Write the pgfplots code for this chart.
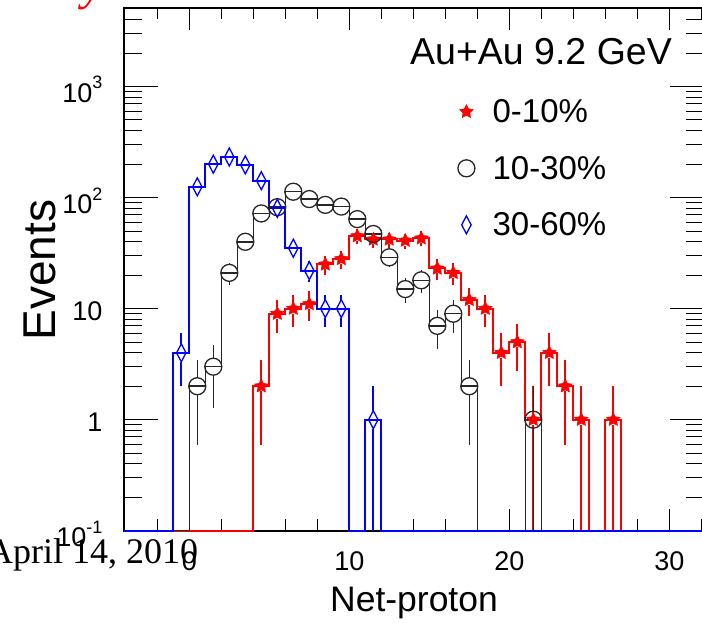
\documentclass[border=0pt]{standalone}
\usepackage{fontspec}
\setmainfont{Liberation Sans}
\newfontfamily\serifnm{Liberation Serif}
\usepackage{pgfplots}
\pgfplotsset{compat=1.18}
\usepackage{pgfplotstable}
\usetikzlibrary{calc}

\pgfdeclareplotmark{fstar}{%
  \pgfpathmoveto{\pgfpointpolar{90}{\pgfplotmarksize}}%
  \pgfpathlineto{\pgfpointpolar{126}{0.5\pgfplotmarksize}}%
  \pgfpathlineto{\pgfpointpolar{162}{\pgfplotmarksize}}%
  \pgfpathlineto{\pgfpointpolar{198}{0.5\pgfplotmarksize}}%
  \pgfpathlineto{\pgfpointpolar{234}{\pgfplotmarksize}}%
  \pgfpathlineto{\pgfpointpolar{270}{0.5\pgfplotmarksize}}%
  \pgfpathlineto{\pgfpointpolar{306}{\pgfplotmarksize}}%
  \pgfpathlineto{\pgfpointpolar{342}{0.5\pgfplotmarksize}}%
  \pgfpathlineto{\pgfpointpolar{18}{\pgfplotmarksize}}%
  \pgfpathlineto{\pgfpointpolar{54}{0.5\pgfplotmarksize}}%
  \pgfpathclose
  \pgfusepathqfillstroke
}

\newcommand\sups[1]{\raisebox{0.5em}{\fontsize{18}{18}\selectfont #1}}

\pgfplotsset{
  gapA/.style={error bars/draw error bar/.code 2 args={%
     \path ##1 coordinate (ebA) ##2 coordinate (ebB);
     \path let \p1=(ebA), \p2=(ebB) in \pgfextra{\pgfmathsetmacro\ebLen{abs(\y2-\y1)}\global\let\ebLenG\ebLen};
     \ifdim\ebLenG pt>8.5pt\relax \draw[/pgfplots/every error bar] ($(ebA)!8.5pt!(ebB)$) -- (ebB);\fi}},
  gapB/.style={error bars/draw error bar/.code 2 args={%
     \path ##1 coordinate (ebA) ##2 coordinate (ebB);
     \path let \p1=(ebA), \p2=(ebB) in \pgfextra{\pgfmathsetmacro\ebLen{abs(\y2-\y1)}\global\let\ebLenG\ebLen};
     \ifdim\ebLenG pt>9pt\relax \draw[/pgfplots/every error bar] ($(ebA)!9pt!(ebB)$) -- (ebB);\fi}},
  gapC/.style={error bars/draw error bar/.code 2 args={%
     \path ##1 coordinate (ebA) ##2 coordinate (ebB);
     \path let \p1=(ebA), \p2=(ebB) in \pgfextra{\pgfmathsetmacro\ebLen{abs(\y2-\y1)}\global\let\ebLenG\ebLen};
     \ifdim\ebLenG pt>5pt\relax \draw[/pgfplots/every error bar] ($(ebA)!5pt!(ebB)$) -- (ebB);\fi}},
}

% 0-10% : bin centres, counts, errors
\pgfplotstableread{
x y ep em
4.5 2 1.414 1.414
5.5 9 3 3
6.5 10 3.162 3.162
7.5 11 3.317 3.317
8.5 25 5 5
9.5 28 5.292 5.292
10.5 45 6.708 6.708
11.5 42 6.481 6.481
12.5 42 6.481 6.481
13.5 41 6.403 6.403
14.5 43 6.557 6.557
15.5 23 4.796 4.796
16.5 21 4.583 4.583
17.5 12 3.464 3.464
18.5 10 3.162 3.162
19.5 4 2 2
20.5 5 2.236 2.236
21.5 1 1 0.9
22.5 4 2 2
23.5 2 1.414 1.414
24.5 1 1 0.9
26.5 1 1 0.9
}\redpts
\pgfplotstableread{
x y
-4.1 0.1
4 2
5 9
6 10
7 11
8 25
9 28
10 45
11 42
12 42
13 41
14 43
15 23
16 21
17 12
18 10
19 4
20 5
21 1
22 4
23 2
24 1
25 0.1
26 1
27 0.1
32.2 0.1
}\redhist

% 10-30%
\pgfplotstableread{
x y ep em
0.5 2 1.414 1.414
1.5 3 1.732 1.732
2.5 21 4.583 4.583
3.5 40 6.325 6.325
4.5 72 8.485 8.485
5.5 82 9.055 9.055
6.5 113 10.630 10.630
7.5 97 9.849 9.849
8.5 86 9.274 9.274
9.5 83 9.110 9.110
10.5 64 8 8
11.5 47 6.856 6.856
12.5 29 5.385 5.385
13.5 15 3.873 3.873
14.5 18 4.243 4.243
15.5 7 2.646 2.646
16.5 9 3 3
17.5 2 1.414 1.414
21.5 1 1 0.9
}\blkpts
\pgfplotstableread{
x y
-4.1 0.1
0 2
1 3
2 21
3 40
4 72
5 82
6 113
7 97
8 86
9 83
10 64
11 47
12 29
13 15
14 18
15 7
16 9
17 2
18 0.1
21 1
22 0.1
32.2 0.1
}\blkhist

% 30-60%
\pgfplotstableread{
x y ep em
-0.5 4 2 2
0.5 125 11.180 11.180
1.5 200 14.142 14.142
2.5 232 15.232 15.232
3.5 197 14.036 14.036
4.5 142 11.916 11.916
5.5 80 8.944 8.944
6.5 35 5.916 5.916
7.5 22 4.690 4.690
8.5 10 3.162 3.162
9.5 10 3.162 3.162
11.5 1 1 0.9
}\blupts
\pgfplotstableread{
x y
-4.1 0.1
-1 4
0 125
1 200
2 232
3 197
4 142
5 80
6 35
7 22
8 10
9 10
10 0.1
11 1
12 0.1
32.2 0.1
}\bluhist

\begin{document}
\begin{tikzpicture}
\begin{axis}[
  at={(123.7pt,91.3pt)}, anchor=south west,
  scale only axis, width=580.8pt, height=522.7pt,
  xmin=-4.1, xmax=32.2, ymode=log, ymin=0.1, ymax=5100,
  clip=false,
  axis line style={line width=2pt},
  tick style={line width=1pt, black},
  tick align=inside,
  xtick pos=both, ytick pos=both,
  xticklabel pos=bottom, yticklabel pos=left,
  xtick={0,10,20,30},
  minor xtick={-2,2,4,6,8,12,14,16,18,22,24,26,28,32},
  ytick={0.1,1,10,100,1000},
  yticklabels={10\sups{-1},1,10,10\sups{2},10\sups{3}},
  minor ytick={0.2,0.3,0.4,0.5,0.6,0.7,0.8,0.9,2,3,4,5,6,7,8,9,20,30,40,50,60,70,80,90,200,300,400,500,600,700,800,900,2000,3000,4000,5000},
  xtick style={/pgfplots/major tick length=22pt, /pgfplots/minor tick length=11.5pt},
  ytick style={/pgfplots/major tick length=34pt, /pgfplots/minor tick length=18pt},
  /pgf/number format/assume math mode=true,
  xticklabel style={font=\fontsize{27}{27}\selectfont, anchor=north, inner sep=0pt, yshift=-21pt},
  yticklabel style={font=\fontsize{27}{27}\selectfont, anchor=east, inner sep=0pt, xshift=-21pt, yshift=-3pt},
  legend style={draw=none, fill=none, font=\fontsize{33}{38}\selectfont,
    at={(0.567,0.833)}, anchor=north west, row sep=28pt,
    nodes={inner sep=2pt}},
  legend cell align=left,
  legend image code/.code={\path (-10pt,0pt) (24pt,0pt); \draw[#1] plot coordinates {(0pt,0pt)};},
]
% 0-10%
\addplot[const plot, draw=red, line width=2pt, forget plot] table[x=x,y=y] {\redhist};
\addplot[only marks, mark=fstar, mark size=7pt, color=red, mark options={fill=red, draw=red, line width=0.6pt}, gapC,
  error bars/.cd, y dir=both, y explicit, error mark=none, error bar style={draw=red, line width=1.8pt}]
  table[x=x, y=y, y error plus=ep, y error minus=em] {\redpts};
\addlegendentry{0-10\%}
% 10-30%
\addplot[const plot, draw=black!85, line width=1.5pt, forget plot] table[x=x,y=y] {\blkhist};
\addplot[only marks, mark=o, mark size=8.5pt, color=black!85, mark options={line width=1.3pt}, gapA,
  error bars/.cd, y dir=both, y explicit, error mark=none, error bar style={draw=black!85, line width=1.5pt}]
  table[x=x, y=y, y error plus=ep, y error minus=em] {\blkpts};
\addlegendentry{10-30\%}
% 30-60%
\addplot[const plot, draw=blue, line width=2pt, forget plot] table[x=x,y=y] {\bluhist};
\addplot[only marks, mark=diamond, mark size=9pt, color=blue, mark options={xscale=0.7, line width=1.3pt}, gapB,
  error bars/.cd, y dir=both, y explicit, error mark=none, error bar style={draw=blue, line width=1.8pt}]
  table[x=x, y=y, y error plus=ep, y error minus=em] {\blupts};
\addlegendentry{30-60\%}
\end{axis}
\node[anchor=base west, inner sep=0pt, font=\fontsize{37.5}{40}\selectfont] at (410pt,557pt) {Au+Au 9.2 GeV};
\node[anchor=base, rotate=90, inner sep=0pt, font=\fontsize{46}{46}\selectfont] at (55pt,352pt) {Events};
\node[anchor=base, inner sep=0pt, font=\fontsize{35.5}{36}\selectfont] at (414pt,10.3pt) {Net-proton};
\node[anchor=base west, inner sep=0pt, font=\serifnm\fontsize{36}{36}\selectfont] at (-13pt,59pt) {April 14, 2010};
\node[anchor=base west, inner sep=0pt, text=red, font=\serifnm\itshape\fontsize{48}{48}\selectfont] at (82pt,622pt) {y};
\pgfresetboundingbox
\useasboundingbox (0pt,0pt) rectangle (702pt,622pt);
\end{tikzpicture}
\end{document}
